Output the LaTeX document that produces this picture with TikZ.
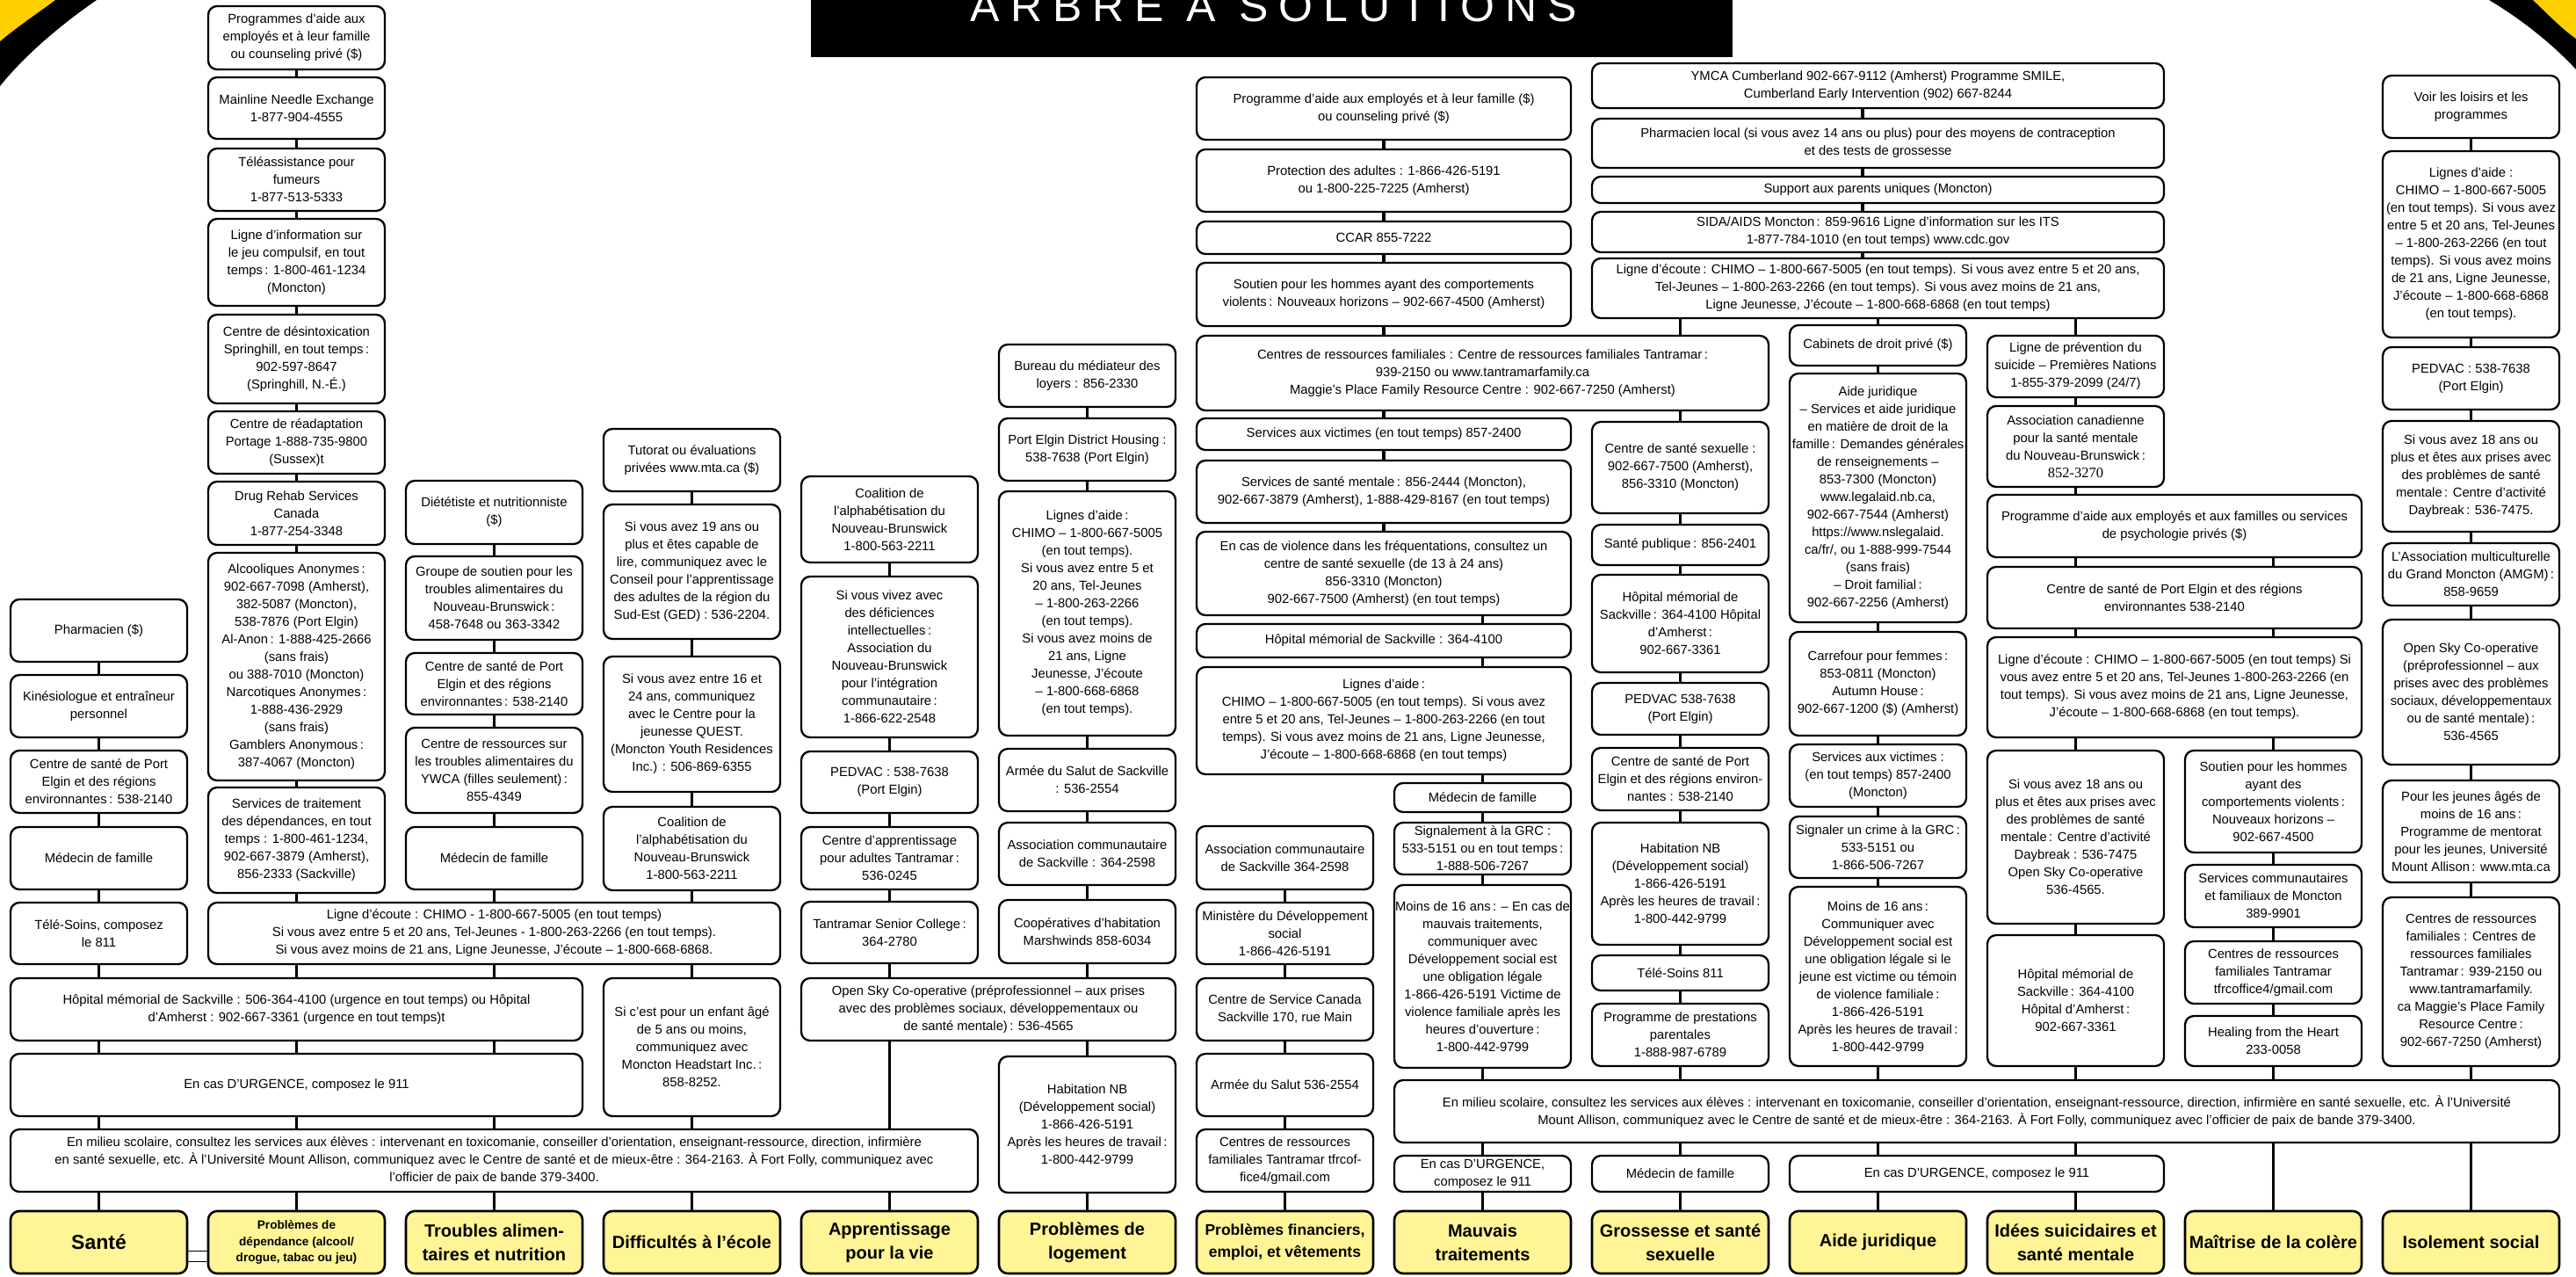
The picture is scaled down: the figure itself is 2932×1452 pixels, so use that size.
\documentclass[tikz,border=0pt]{standalone}
\usepackage{fontspec}
\setmainfont{Liberation Sans}
\newfontfamily\numserif{Liberation Serif}
\newfontfamily\titlefont[LetterSpace=24]{Liberation Sans}
\definecolor{catyellow}{RGB}{255,244,150}
\definecolor{swoosh}{RGB}{255,208,0}

\begin{document}
\begin{tikzpicture}[x=1pt,y=-1pt,
  box/.style={rectangle,draw,rounded corners=10pt,line width=2.3pt,align=center,inner sep=1pt,minimum width=201pt,font=\fontsize{14.8}{20}\selectfont},
  wide2/.style={box,minimum width=426pt},
  wide3/.style={box,minimum width=651pt},
  cat/.style={box,fill=catyellow,line width=2.6pt,minimum height=71pt,font=\bfseries\fontsize{20}{27}\selectfont},
  link/.style={line width=3.2pt}]

  \useasboundingbox (0,0) rectangle (2932,1452);

  % coins et bandeau du titre
  \fill[black] (0,0) -- (110,0) .. controls (78,22) and (32,58) .. (0,98) -- cycle;
  \fill[swoosh] (0,0) -- (63,0) .. controls (44,14) and (20,30) .. (0,47) -- cycle;
  \fill[black] (2932,0) -- (2833,0) .. controls (2870,22) and (2905,50) .. (2932,79) -- cycle;
  \fill[swoosh] (2932,0) -- (2883,0) .. controls (2900,16) and (2915,32) .. (2932,44) -- cycle;
  \fill[black] (923,0) rectangle (1972,65);
  \node[font=\titlefont\fontsize{50}{50}\selectfont,text=white,anchor=base,inner sep=0pt] (title) at (1450,24) {ARBRE À SOLUTIONS};

  % colonnes
  \coordinate (col1)  at (112.5,0);
  \coordinate (col2)  at (337.5,0);
  \coordinate (col3)  at (562.5,0);
  \coordinate (col4)  at (787.5,0);
  \coordinate (col5)  at (1012.5,0);
  \coordinate (col6)  at (1237.5,0);
  \coordinate (col7)  at (1462.5,0);
  \coordinate (col8)  at (1687.5,0);
  \coordinate (col9)  at (1912.5,0);
  \coordinate (col10) at (2137.5,0);
  \coordinate (col11) at (2362.5,0);
  \coordinate (col12) at (2587.5,0);
  \coordinate (col13) at (2812.5,0);
  \coordinate (mid78) at (1575,0);
  \coordinate (mid911) at (2120,0);

  % 1. Santé
  \node[box,minimum height=71] (pharm) at (112.5,717.5) {Pharmacien (\$)};
  \node[box,minimum height=71] (kine)  at (112.5,803.5) {Kinésiologue et entraîneur\\personnel};
  \node[box,minimum height=71] (cs1)   at (112.5,889.5) {Centre de santé de Port\\Elgin et des régions\\environnantes\,: 538-2140};
  \node[box,minimum height=71] (med1)  at (112.5,976.5) {Médecin de famille};
  \node[box,minimum height=70] (tele1) at (112.5,1062) {Télé-Soins, composez\\le 811};
  \node[wide3,minimum height=71] (hop1) at (337.5,1148.5) {Hôpital mémorial de Sackville : 506-364-4100 (urgence en tout temps) ou Hôpital\\d’Amherst : 902-667-3361 (urgence en tout temps)t};
  \node[wide3,minimum height=71] (urg1) at (337.5,1234.5) {En cas D’URGENCE, composez le 911};
  \node[box,minimum width=1101,minimum height=71] (mil1) at (562.5,1320.5)
   {En milieu scolaire, consultez les services aux élèves : intervenant en toxicomanie, conseiller d’orientation, enseignant-ressource, direction, infirmière\\
    en santé sexuelle, etc. À l’Université Mount Allison, communiquez avec le Centre de santé et de mieux-être : 364-2163. À Fort Folly, communiquez avec\\
    l’officier de paix de bande 379-3400.};

  % 2. Dépendance
  \node[box,minimum height=72]  (prog2)   at (337.5,43) {Programmes d’aide aux\\employés et à leur famille\\ou counseling privé (\$)};
  \node[box,minimum height=70]  (mainl)   at (337.5,123) {Mainline Needle Exchange\\1-877-904-4555};
  \node[box,minimum height=71]  (tele2)   at (337.5,204.5) {Téléassistance pour\\fumeurs\\1-877-513-5333};
  \node[box,minimum height=99]  (jeu)     at (337.5,298.5) {Ligne d’information sur\\le jeu compulsif, en tout\\temps\,: 1-800-461-1234\\(Moncton)};
  \node[box,minimum height=101] (desin)   at (337.5,408.5) {Centre de désintoxication\\Springhill, en tout temps\,:\\902-597-8647\\(Springhill, N.-É.)};
  \node[box,minimum height=71]  (portage) at (337.5,503.5) {Centre de réadaptation\\Portage 1-888-735-9800\\(Sussex)t};
  \node[box,minimum height=72]  (drug)    at (337.5,584) {Drug Rehab Services\\Canada\\1-877-254-3348};
  \node[box,minimum height=259] (alco)    at (337.5,758.5) {Alcooliques Anonymes\,:\\902-667-7098 (Amherst),\\382-5087 (Moncton),\\538-7876 (Port Elgin)\\Al-Anon\,: 1-888-425-2666\\(sans frais)\\ou 388-7010 (Moncton)\\Narcotiques Anonymes\,:\\1-888-436-2929\\(sans frais)\\Gamblers Anonymous\,:\\387-4067 (Moncton)};
  \node[box,minimum height=120] (trait)   at (337.5,956) {Services de traitement\\des dépendances, en tout\\temps : 1-800-461-1234,\\902-667-3879 (Amherst),\\856-2333 (Sackville)};
  \node[wide3,minimum height=70] (ecoute2) at (562.5,1062) {Ligne d’écoute : CHIMO - 1-800-667-5005 (en tout temps)\\Si vous avez entre 5 et 20 ans, Tel-Jeunes - 1-800-263-2266 (en tout temps).\\Si vous avez moins de 21 ans, Ligne Jeunesse, J’écoute – 1-800-668-6868.};

  % 3. Troubles alimentaires
  \node[box,minimum height=72] (diet)   at (562.5,583) {Diététiste et nutritionniste\\(\$)};
  \node[box,minimum height=95] (groupe) at (562.5,680.5) {Groupe de soutien pour les\\troubles alimentaires du\\Nouveau-Brunswick\,:\\458-7648 ou 363-3342};
  \node[box,minimum height=70] (cs3)    at (562.5,778) {Centre de santé de Port\\Elgin et des régions\\environnantes\,: 538-2140};
  \node[box,minimum height=97] (ywca)   at (562.5,876.5) {Centre de ressources sur\\les troubles alimentaires du\\YWCA (filles seulement)\,:\\855-4349};
  \node[box,minimum height=71] (med3)   at (562.5,976.5) {Médecin de famille};

  % 4. Difficultés à l'école
  \node[box,minimum height=71]  (tutorat) at (787.5,523.5) {Tutorat ou évaluations\\privées www.mta.ca (\$)};
  \node[box,minimum height=153] (si19)    at (787.5,650.5) {Si vous avez 19 ans ou\\plus et êtes capable de\\lire, communiquez avec le\\Conseil pour l’apprentissage\\des adultes de la région du\\Sud-Est (GED) : 536-2204.};
  \node[box,minimum height=154] (si16)    at (787.5,824) {Si vous avez entre 16 et\\24 ans, communiquez\\avec le Centre pour la\\jeunesse QUEST.\\(Moncton Youth Residences\\Inc.) : 506-869-6355};
  \node[box,minimum height=95]  (coal4)   at (787.5,965.5) {Coalition de\\l’alphabétisation du\\Nouveau-Brunswick\\1-800-563-2211};
  \node[box,minimum height=157] (enfant)  at (787.5,1191.5) {Si c’est pour un enfant âgé\\de 5 ans ou moins,\\communiquez avec\\Moncton Headstart Inc.\,:\\858-8252.};

  % 5. Apprentissage
  \node[box,minimum height=98]  (coal5)   at (1012.5,591) {Coalition de\\l’alphabétisation du\\Nouveau-Brunswick\\1-800-563-2211};
  \node[box,minimum height=183] (defic)   at (1012.5,747.5) {Si vous vivez avec\\des déficiences\\intellectuelles\,:\\Association du\\Nouveau-Brunswick\\pour l’intégration\\communautaire\,:\\1-866-622-2548};
  \node[box,minimum height=70]  (pedvac5) at (1012.5,890) {PEDVAC : 538-7638\\(Port Elgin)};
  \node[box,minimum height=71]  (appr)    at (1012.5,976.5) {Centre d’apprentissage\\pour adultes Tantramar\,:\\536-0245};
  \node[box,minimum height=70]  (senior)  at (1012.5,1061) {Tantramar Senior College\,:\\364-2780};
  \node[wide2,minimum height=71] (opensky5) at (1125,1148.5) {Open Sky Co-operative (préprofessionnel – aux prises\\avec des problèmes sociaux, développementaux ou\\de santé mentale)\,: 536-4565};

  % 6. Logement
  \node[box,minimum height=71]  (bureau)  at (1237.5,427.5) {Bureau du médiateur des\\loyers : 856-2330};
  \node[box,minimum height=71]  (housing) at (1237.5,511.5) {Port Elgin District Housing :\\538-7638 (Port Elgin)};
  \node[box,minimum height=278] (lignes6) at (1237.5,698) {Lignes d’aide\,:\\CHIMO – 1-800-667-5005\\(en tout temps).\\Si vous avez entre 5 et\\20 ans, Tel-Jeunes\\– 1-800-263-2266\\(en tout temps).\\Si vous avez moins de\\21 ans, Ligne\\Jeunesse, J’écoute\\– 1-800-668-6868\\(en tout temps).};
  \node[box,minimum height=71]  (armee6)  at (1237.5,887.5) {Armée du Salut de Sackville\\: 536-2554};
  \node[box,minimum height=71]  (assoc6)  at (1237.5,971.5) {Association communautaire\\de Sackville : 364-2598};
  \node[box,minimum height=72]  (coop)    at (1237.5,1060) {Coopératives d’habitation\\Marshwinds 858-6034};
  \node[box,minimum height=155] (habnb6)  at (1237.5,1279.5) {Habitation NB\\(Développement social)\\1-866-426-5191\\Après les heures de travail\,:\\1-800-442-9799};

  % 7. Problèmes financiers
  \node[box,minimum height=72] (assoc7)  at (1462.5,976) {Association communautaire\\de Sackville 364-2598};
  \node[box,minimum height=70] (minist)  at (1462.5,1062) {Ministère du Développement\\social\\1-866-426-5191};
  \node[box,minimum height=71] (servcan) at (1462.5,1148.5) {Centre de Service Canada\\Sackville 170, rue Main};
  \node[box,minimum height=71] (armee7)  at (1462.5,1234.5) {Armée du Salut 536-2554};
  \node[box,minimum height=71] (tfrc7)   at (1462.5,1320.5) {Centres de ressources\\familiales Tantramar tfrcof-\\fice4/gmail.com};

  % 8. Mauvais traitements
  \node[wide2,minimum height=71]  (prog78)     at (1575,123.5) {Programme d’aide aux employés et à leur famille (\$)\\ou counseling privé (\$)};
  \node[wide2,minimum height=71]  (protect)    at (1575,205.5) {Protection des adultes : 1-866-426-5191\\ou 1-800-225-7225 (Amherst)};
  \node[wide2,minimum height=37]  (ccar)       at (1575,270.5) {CCAR 855-7222};
  \node[wide2,minimum height=72]  (soutien78)  at (1575,335) {Soutien pour les hommes ayant des comportements\\violents\,: Nouveaux horizons – 902-667-4500 (Amherst)};
  \node[wide3,minimum height=85]  (crf)        at (1687.5,424.5) {Centres de ressources familiales : Centre de ressources familiales Tantramar\,:\\939-2150 ou www.tantramarfamily.ca\\Maggie’s Place Family Resource Centre : 902-667-7250 (Amherst)};
  \node[wide2,minimum height=36]  (victimes78) at (1575,494) {Services aux victimes (en tout temps) 857-2400};
  \node[wide2,minimum height=71]  (sante78)    at (1575,559.5) {Services de santé mentale\,: 856-2444 (Moncton),\\902-667-3879 (Amherst), 1-888-429-8167 (en tout temps)};
  \node[wide2,minimum height=95]  (violence)   at (1575,652.5) {En cas de violence dans les fréquentations, consultez un\\centre de santé sexuelle (de 13 à 24 ans)\\856-3310 (Moncton)\\902-667-7500 (Amherst) (en tout temps)};
  \node[wide2,minimum height=38]  (hop78)      at (1575,729) {Hôpital mémorial de Sackville : 364-4100};
  \node[wide2,minimum height=122] (lignes78)   at (1575,820) {Lignes d’aide\,:\\CHIMO – 1-800-667-5005 (en tout temps). Si vous avez\\entre 5 et 20 ans, Tel-Jeunes – 1-800-263-2266 (en tout\\temps). Si vous avez moins de 21 ans, Ligne Jeunesse,\\J’écoute – 1-800-668-6868 (en tout temps)};
  \node[box,minimum height=33]  (med8)   at (1687.5,907.5) {Médecin de famille};
  \node[box,minimum height=59]  (grc8)   at (1687.5,965.5) {Signalement à la GRC :\\533-5151 ou en tout temps\,:\\1-888-506-7267};
  \node[box,minimum height=208] (moins8) at (1687.5,1111) {Moins de 16 ans\,: – En cas de\\mauvais traitements,\\communiquer avec\\Développement social est\\une obligation légale\\1-866-426-5191 Victime de\\violence familiale après les\\heures d’ouverture\,:\\1-800-442-9799};
  \node[box,minimum width=1326,minimum height=71] (mil2) at (2250,1264.5)
   {En milieu scolaire, consultez les services aux élèves : intervenant en toxicomanie, conseiller d’orientation, enseignant-ressource, direction, infirmière en santé sexuelle, etc. À l’Université\\
    Mount Allison, communiquez avec le Centre de santé et de mieux-être : 364-2163. À Fort Folly, communiquez avec l’officier de paix de bande 379-3400.};
  \node[box,minimum height=41]  (urg8)   at (1687.5,1335.5) {En cas D’URGENCE,\\composez le 911};

  % 9. Grossesse et santé sexuelle
  \node[wide3,minimum height=51] (ymca)      at (2137.5,97.5) {YMCA Cumberland 902-667-9112 (Amherst) Programme SMILE,\\Cumberland Early Intervention (902) 667-8244};
  \node[wide3,minimum height=56] (pharmloc)  at (2137.5,163) {Pharmacien local (si vous avez 14 ans ou plus) pour des moyens de contraception\\et des tests de grossesse};
  \node[wide3,minimum height=30] (support)   at (2137.5,216) {Support aux parents uniques (Moncton)};
  \node[wide3,minimum height=46] (sida)      at (2137.5,264) {SIDA/AIDS Moncton\,: 859-9616 Ligne d’information sur les ITS\\1-877-784-1010 (en tout temps) www.cdc.gov};
  \node[wide3,minimum height=68] (ecoute911) at (2137.5,328) {Ligne d’écoute\,: CHIMO – 1-800-667-5005 (en tout temps). Si vous avez entre 5 et 20 ans,\\Tel-Jeunes – 1-800-263-2266 (en tout temps). Si vous avez moins de 21 ans,\\Ligne Jeunesse, J’écoute – 1-800-668-6868 (en tout temps)};
  \node[box,minimum height=104] (css)     at (1912.5,532) {Centre de santé sexuelle :\\902-667-7500 (Amherst),\\856-3310 (Moncton)};
  \node[box,minimum height=46]  (pub)     at (1912.5,620) {Santé publique\,: 856-2401};
  \node[box,minimum height=111] (hop9)    at (1912.5,709.5) {Hôpital mémorial de\\Sackville\,: 364-4100 Hôpital\\d’Amherst\,:\\902-667-3361};
  \node[box,minimum height=59]  (pedvac9) at (1912.5,806.5) {PEDVAC 538-7638\\(Port Elgin)};
  \node[box,minimum height=71]  (cs9)     at (1912.5,886.5) {Centre de santé de Port\\Elgin et des régions environ-\\nantes : 538-2140};
  \node[box,minimum height=139] (habnb9)  at (1912.5,1005.5) {Habitation NB\\(Développement social)\\1-866-426-5191\\Après les heures de travail\,:\\1-800-442-9799};
  \node[box,minimum height=40]  (tele9)   at (1912.5,1107) {Télé-Soins 811};
  \node[box,minimum height=71]  (presta)  at (1912.5,1177.5) {Programme de prestations\\parentales\\1-888-987-6789};
  \node[box,minimum height=41]  (med9)    at (1912.5,1335.5) {Médecin de famille};

  % 10. Aide juridique
  \node[box,minimum height=46]  (cabinet)    at (2137.5,393) {Cabinets de droit privé (\$)};
  \node[box,minimum height=283] (aidej)      at (2137.5,566.5) {Aide juridique\\– Services et aide juridique\\en matière de droit de la\\famille\,: Demandes générales\\de renseignements –\\853-7300 (Moncton)\\www.legalaid.nb.ca,\\902-667-7544 (Amherst)\\https://www.nslegalaid.\\ca/fr/, ou 1-888-999-7544\\(sans frais)\\– Droit familial\,:\\902-667-2256 (Amherst)};
  \node[box,minimum height=118] (carrefour)  at (2137.5,778) {Carrefour pour femmes\,:\\853-0811 (Moncton)\\Autumn House\,:\\902-667-1200 (\$) (Amherst)};
  \node[box,minimum height=71]  (victimes10) at (2137.5,882.5) {Services aux victimes :\\(en tout temps) 857-2400\\(Moncton)};
  \node[box,minimum height=70]  (crime)      at (2137.5,964) {Signaler un crime à la GRC\,:\\533-5151 ou\\1-866-506-7267};
  \node[box,minimum height=204] (moins10)    at (2137.5,1111) {Moins de 16 ans\,:\\Communiquer avec\\Développement social est\\une obligation légale si le\\jeune est victime ou témoin\\de violence familiale\,:\\1-866-426-5191\\Après les heures de travail\,:\\1-800-442-9799};
  \node[wide2,minimum height=41] (urg10)     at (2250,1335.5) {En cas D’URGENCE, composez le 911};

  % 11. Idées suicidaires
  \node[box,minimum height=70]  (prevent) at (2362.5,417) {Ligne de prévention du\\suicide – Premières Nations\\1-855-379-2099 (24/7)};
  \node[box,minimum height=92]  (acsm)    at (2362.5,508) {Association canadienne\\pour la santé mentale\\du Nouveau-Brunswick\,:\\{\numserif\fontsize{16.5}{20}\selectfont 852-3270}};
  \node[wide2,minimum height=71]  (prog1112)   at (2475,598.5) {Programme d’aide aux employés et aux familles ou services\\de psychologie privés (\$)};
  \node[wide2,minimum height=70]  (cs1112)     at (2475,680) {Centre de santé de Port Elgin et des régions\\environnantes 538-2140};
  \node[wide2,minimum height=114] (ecoute1112) at (2475,782) {Ligne d’écoute : CHIMO – 1-800-667-5005 (en tout temps) Si\\vous avez entre 5 et 20 ans, Tel-Jeunes 1-800-263-2266 (en\\tout temps). Si vous avez moins de 21 ans, Ligne Jeunesse,\\J’écoute – 1-800-668-6868 (en tout temps).};
  \node[box,minimum height=197] (si18)  at (2362.5,952.5) {Si vous avez 18 ans ou\\plus et êtes aux prises avec\\des problèmes de santé\\mentale\,: Centre d’activité\\Daybreak : 536-7475\\Open Sky Co-operative\\536-4565.};
  \node[box,minimum height=149] (hop11) at (2362.5,1138.5) {Hôpital mémorial de\\Sackville\,: 364-4100\\Hôpital d’Amherst\,:\\902-667-3361};

  % 12. Colère
  \node[box,minimum height=116] (soutien12) at (2587.5,912) {Soutien pour les hommes\\ayant des\\comportements violents\,:\\Nouveaux horizons –\\902-667-4500};
  \node[box,minimum height=71]  (servcom)   at (2587.5,1019.5) {Services communautaires\\et familiaux de Moncton\\389-9901};
  \node[box,minimum height=71]  (tfrc12)    at (2587.5,1106.5) {Centres de ressources\\familiales Tantramar\\tfrcoffice4/gmail.com};
  \node[box,minimum height=57]  (healing)   at (2587.5,1184.5) {Healing from the Heart\\233-0058};

  % 13. Isolement
  \node[box,minimum height=71]  (loisirs)   at (2812.5,121.5) {Voir les loisirs et les\\programmes};
  \node[box,minimum height=212] (lignes13)  at (2812.5,278) {Lignes d’aide :\\CHIMO – 1-800-667-5005\\(en tout temps). Si vous avez\\entre 5 et 20 ans, Tel-Jeunes\\– 1-800-263-2266 (en tout\\temps). Si vous avez moins\\de 21 ans, Ligne Jeunesse,\\J’écoute – 1-800-668-6868\\(en tout temps).};
  \node[box,minimum height=71]  (pedvac13)  at (2812.5,430.5) {PEDVAC : 538-7638\\(Port Elgin)};
  \node[box,minimum height=126] (si18b)     at (2812.5,542) {Si vous avez 18 ans ou\\plus et êtes aux prises avec\\des problèmes de santé\\mentale\,: Centre d’activité\\Daybreak\,: 536-7475.};
  \node[box,minimum height=71]  (amgm)      at (2812.5,653.5) {L’Association multiculturelle\\du Grand Moncton (AMGM)\,:\\858-9659};
  \node[box,minimum height=165] (opensky13) at (2812.5,787.5) {Open Sky Co-operative\\(préprofessionnel – aux\\prises avec des problèmes\\sociaux, développementaux\\ou de santé mentale)\,:\\536-4565};
  \node[box,minimum height=116] (jeunes)    at (2812.5,946) {Pour les jeunes âgés de\\moins de 16 ans\,:\\Programme de mentorat\\pour les jeunes, Université\\Mount Allison\,: www.mta.ca};
  \node[box,minimum height=192] (crf13)     at (2812.5,1117) {Centres de ressources\\familiales : Centres de\\ressources familiales\\Tantramar\,: 939-2150 ou\\www.tantramarfamily.\\ca Maggie’s Place Family\\Resource Centre\,:\\902-667-7250 (Amherst)};

  % catégories
  \node[cat,font=\bfseries\fontsize{23}{27}\selectfont] (ycat1) at (112.5,1413.5) {Santé};
  \node[cat,font=\bfseries\fontsize{13.6}{18.5}\selectfont] (ycat2) at (337.5,1413.5) {Problèmes de\\dépendance (alcool/\\drogue, tabac ou jeu)};
  \node[cat] (ycat3)  at (562.5,1413.5)  {Troubles alimen-\\taires et nutrition};
  \node[cat] (ycat4)  at (787.5,1413.5)  {Difficultés à l’école};
  \node[cat] (ycat5)  at (1012.5,1413.5) {Apprentissage\\pour la vie};
  \node[cat] (ycat6)  at (1237.5,1413.5) {Problèmes de\\logement};
  \node[cat,font=\bfseries\fontsize{17.5}{25}\selectfont] (ycat7) at (1462.5,1413.5) {Problèmes financiers,\\emploi, et vêtements};
  \node[cat] (ycat8)  at (1687.5,1413.5) {Mauvais\\traitements};
  \node[cat] (ycat9)  at (1912.5,1413.5) {Grossesse et santé\\sexuelle};
  \node[cat] (ycat10) at (2137.5,1413.5) {Aide juridique};
  \node[cat] (ycat11) at (2362.5,1413.5) {Idées suicidaires et\\santé mentale};
  \node[cat] (ycat12) at (2587.5,1413.5) {Maîtrise de la colère};
  \node[cat] (ycat13) at (2812.5,1413.5) {Isolement social};

  \draw[line width=1.2pt] ([yshift=-10pt]ycat1.east) -- ([yshift=-10pt]ycat2.west)
                          ([yshift=-22pt]ycat1.east) -- ([yshift=-22pt]ycat2.west);

  % liens
  \path[link]
    (pharm.south -| col1) edge (kine.north -| col1)
    (kine.south -| col1)  edge (cs1.north -| col1)
    (cs1.south -| col1)   edge (med1.north -| col1)
    (med1.south -| col1)  edge (tele1.north -| col1)
    (tele1.south -| col1) edge (hop1.north -| col1)
    (hop1.south -| col1)  edge (urg1.north -| col1)
    (urg1.south -| col1)  edge (mil1.north -| col1)
    (mil1.south -| col1)  edge (ycat1.north -| col1)

    (prog2.south -| col2)   edge (mainl.north -| col2)
    (mainl.south -| col2)   edge (tele2.north -| col2)
    (tele2.south -| col2)   edge (jeu.north -| col2)
    (jeu.south -| col2)     edge (desin.north -| col2)
    (desin.south -| col2)   edge (portage.north -| col2)
    (portage.south -| col2) edge (drug.north -| col2)
    (drug.south -| col2)    edge (alco.north -| col2)
    (alco.south -| col2)    edge (trait.north -| col2)
    (trait.south -| col2)   edge (ecoute2.north -| col2)
    (ecoute2.south -| col2) edge (hop1.north -| col2)
    (hop1.south -| col2)    edge (urg1.north -| col2)
    (urg1.south -| col2)    edge (mil1.north -| col2)
    (mil1.south -| col2)    edge (ycat2.north -| col2)

    (diet.south -| col3)    edge (groupe.north -| col3)
    (groupe.south -| col3)  edge (cs3.north -| col3)
    (cs3.south -| col3)     edge (ywca.north -| col3)
    (ywca.south -| col3)    edge (med3.north -| col3)
    (med3.south -| col3)    edge (ecoute2.north -| col3)
    (ecoute2.south -| col3) edge (hop1.north -| col3)
    (hop1.south -| col3)    edge (urg1.north -| col3)
    (urg1.south -| col3)    edge (mil1.north -| col3)
    (mil1.south -| col3)    edge (ycat3.north -| col3)

    (tutorat.south -| col4) edge (si19.north -| col4)
    (si19.south -| col4)    edge (si16.north -| col4)
    (si16.south -| col4)    edge (coal4.north -| col4)
    (coal4.south -| col4)   edge (ecoute2.north -| col4)
    (ecoute2.south -| col4) edge (enfant.north -| col4)
    (enfant.south -| col4)  edge (mil1.north -| col4)
    (mil1.south -| col4)    edge (ycat4.north -| col4)

    (coal5.south -| col5)    edge (defic.north -| col5)
    (defic.south -| col5)    edge (pedvac5.north -| col5)
    (pedvac5.south -| col5)  edge (appr.north -| col5)
    (appr.south -| col5)     edge (senior.north -| col5)
    (senior.south -| col5)   edge (opensky5.north -| col5)
    (opensky5.south -| col5) edge (mil1.north -| col5)
    (mil1.south -| col5)     edge (ycat5.north -| col5)

    (bureau.south -| col6)   edge (housing.north -| col6)
    (housing.south -| col6)  edge (lignes6.north -| col6)
    (lignes6.south -| col6)  edge (armee6.north -| col6)
    (armee6.south -| col6)   edge (assoc6.north -| col6)
    (assoc6.south -| col6)   edge (coop.north -| col6)
    (coop.south -| col6)     edge (opensky5.north -| col6)
    (opensky5.south -| col6) edge (habnb6.north -| col6)
    (habnb6.south -| col6)   edge (ycat6.north -| col6)

    (assoc7.south -| col7)  edge (minist.north -| col7)
    (minist.south -| col7)  edge (servcan.north -| col7)
    (servcan.south -| col7) edge (armee7.north -| col7)
    (armee7.south -| col7)  edge (tfrc7.north -| col7)
    (tfrc7.south -| col7)   edge (ycat7.north -| col7)

    (prog78.south -| mid78)     edge (protect.north -| mid78)
    (protect.south -| mid78)    edge (ccar.north -| mid78)
    (ccar.south -| mid78)       edge (soutien78.north -| mid78)
    (soutien78.south -| mid78)  edge (crf.north -| mid78)
    (crf.south -| mid78)        edge (victimes78.north -| mid78)
    (victimes78.south -| mid78) edge (sante78.north -| mid78)
    (sante78.south -| mid78)    edge (violence.north -| mid78)
    (violence.south -| col8)    edge (hop78.north -| col8)
    (hop78.south -| col8)       edge (lignes78.north -| col8)
    (lignes78.south -| col8)    edge (med8.north -| col8)
    (med8.south -| col8)        edge (grc8.north -| col8)
    (grc8.south -| col8)        edge (moins8.north -| col8)
    (moins8.south -| col8)      edge (mil2.north -| col8)
    (mil2.south -| col8)        edge (urg8.north -| col8)
    (urg8.south -| col8)        edge (ycat8.north -| col8)

    (ymca.south -| mid911)      edge (pharmloc.north -| mid911)
    (pharmloc.south -| mid911)  edge (support.north -| mid911)
    (support.south -| mid911)   edge (sida.north -| mid911)
    (sida.south -| mid911)      edge (ecoute911.north -| mid911)
    (ecoute911.south -| col9)   edge (crf.north -| col9)
    (crf.south -| col9)         edge (css.north -| col9)
    (css.south -| col9)         edge (pub.north -| col9)
    (pub.south -| col9)         edge (hop9.north -| col9)
    (hop9.south -| col9)        edge (pedvac9.north -| col9)
    (pedvac9.south -| col9)     edge (cs9.north -| col9)
    (cs9.south -| col9)         edge (habnb9.north -| col9)
    (habnb9.south -| col9)      edge (tele9.north -| col9)
    (tele9.south -| col9)       edge (presta.north -| col9)
    (presta.south -| col9)      edge (mil2.north -| col9)
    (mil2.south -| col9)        edge (med9.north -| col9)
    (med9.south -| col9)        edge (ycat9.north -| col9)

    (ecoute911.south -| col10)  edge (cabinet.north -| col10)
    (cabinet.south -| col10)    edge (aidej.north -| col10)
    (aidej.south -| col10)      edge (carrefour.north -| col10)
    (carrefour.south -| col10)  edge (victimes10.north -| col10)
    (victimes10.south -| col10) edge (crime.north -| col10)
    (crime.south -| col10)      edge (moins10.north -| col10)
    (moins10.south -| col10)    edge (mil2.north -| col10)
    (mil2.south -| col10)       edge (urg10.north -| col10)
    (urg10.south -| col10)      edge (ycat10.north -| col10)

    (ecoute911.south -| col11)  edge (prevent.north -| col11)
    (prevent.south -| col11)    edge (acsm.north -| col11)
    (acsm.south -| col11)       edge (prog1112.north -| col11)
    (prog1112.south -| col11)   edge (cs1112.north -| col11)
    (cs1112.south -| col11)     edge (ecoute1112.north -| col11)
    (ecoute1112.south -| col11) edge (si18.north -| col11)
    (si18.south -| col11)       edge (hop11.north -| col11)
    (hop11.south -| col11)      edge (mil2.north -| col11)
    (mil2.south -| col11)       edge (urg10.north -| col11)
    (urg10.south -| col11)      edge (ycat11.north -| col11)

    (prog1112.south -| col12)   edge (cs1112.north -| col12)
    (cs1112.south -| col12)     edge (ecoute1112.north -| col12)
    (ecoute1112.south -| col12) edge (soutien12.north -| col12)
    (soutien12.south -| col12)  edge (servcom.north -| col12)
    (servcom.south -| col12)    edge (tfrc12.north -| col12)
    (tfrc12.south -| col12)     edge (healing.north -| col12)
    (healing.south -| col12)    edge (mil2.north -| col12)
    (mil2.south -| col12)       edge (ycat12.north -| col12)

    (loisirs.south -| col13)   edge (lignes13.north -| col13)
    (lignes13.south -| col13)  edge (pedvac13.north -| col13)
    (pedvac13.south -| col13)  edge (si18b.north -| col13)
    (si18b.south -| col13)     edge (amgm.north -| col13)
    (amgm.south -| col13)      edge (opensky13.north -| col13)
    (opensky13.south -| col13) edge (jeunes.north -| col13)
    (jeunes.south -| col13)    edge (crf13.north -| col13)
    (crf13.south -| col13)     edge (mil2.north -| col13)
    (mil2.south -| col13)      edge (ycat13.north -| col13);

\end{tikzpicture}
\end{document}
